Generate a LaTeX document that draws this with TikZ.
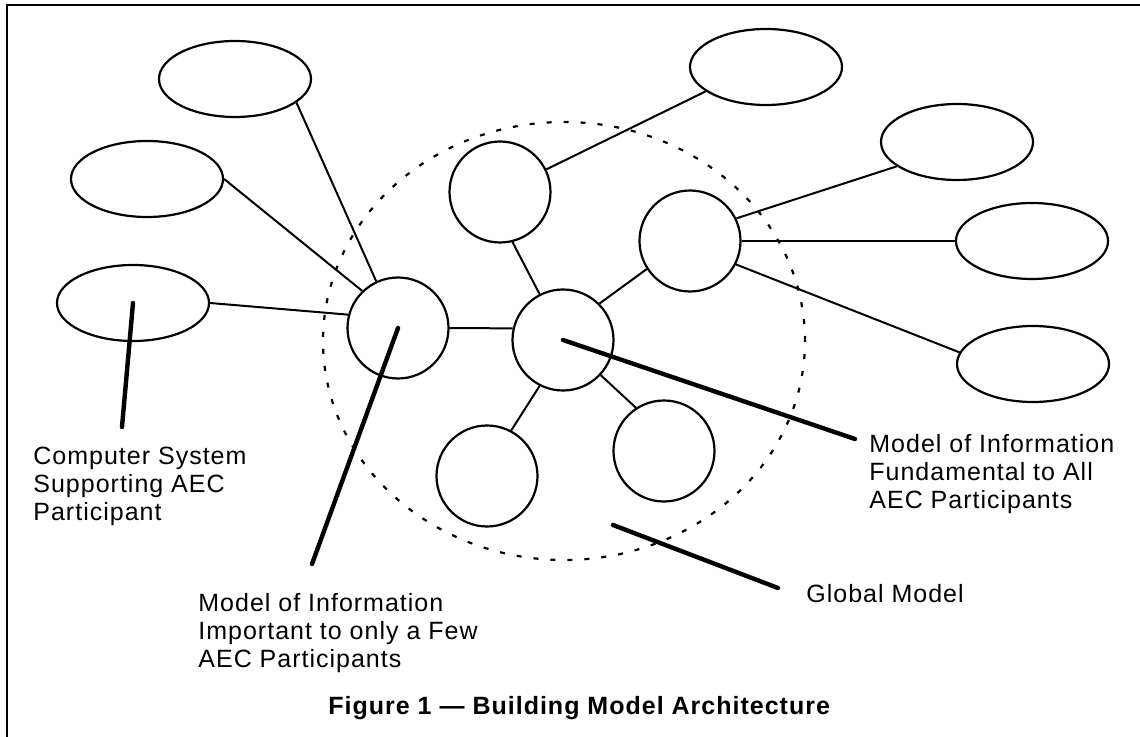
\documentclass[tikz,border=0pt]{standalone}
\usepackage{fontspec}
\setmainfont{Liberation Sans}[LetterSpace=4]
\usepackage{tikz}
\usetikzlibrary{shapes.geometric}
\tikzset{
  system/.style ={ellipse, draw, line width=1.1pt, inner sep=0pt,
                  minimum width=76pt, minimum height=38pt},
  model/.style  ={circle, draw, line width=1.1pt, inner sep=0pt,
                  minimum size=50.5pt},
  globe/.style  ={ellipse, draw, line width=1.1pt, inner sep=0pt,
                  dash pattern=on 2.5pt off 6pt,
                  minimum width=241pt, minimum height=219pt},
  link/.style   ={line width=1pt},
  pointer/.style={line width=2.2pt, line cap=round},
  lbl/.style    ={anchor=north west, inner sep=0pt, align=left,
                  font=\fontsize{12.5}{14}\selectfont},
  ttl/.style    ={anchor=north west, inner sep=0pt,
                  font=\fontsize{12.5}{14}\selectfont\bfseries},
}

\begin{document}
\begin{tikzpicture}[x=0.5pt, y=-0.5pt]
  \useasboundingbox (0,0) rectangle (1140,737);

  % ---- frame (cut off at the right and bottom) ----
  \draw[line width=1pt] (7,737) -- (7,5) -- (1140,5);

  % ---- global model ----
  \node[globe] (global) at (564,341) {};

  % ---- models of information ----
  \node[model] (hub)    at (398,328) {};
  \node[model] (mtop)   at (500,192) {};
  \node[model] (core)   at (563,340) {};
  \node[model] (mright) at (690,241) {};
  \node[model] (mlowA)  at (487,476) {};
  \node[model] (mlowB)  at (664,451) {};

  % ---- computer systems ----
  \node[system] (sysA) at (235,79)  {};
  \node[system] (sysB) at (147,179) {};
  \node[system] (sysC) at (133,303) {};
  \node[system] (sysD) at (766,67)  {};
  \node[system] (sysE) at (957,142) {};
  \node[system] (sysF) at (1032,241) {};
  \node[system] (sysG) at (1033,364) {};

  % ---- links ----
  \draw[link] (sysA.-21) -- (hub.115);
  \draw[link] (sysB.east) -- (hub.134);
  \draw[link] (sysC.east) -- (hub.165);
  \draw[link] (hub.east) -- (core.167);
  \draw[link] (mtop.-76) -- (core.117);
  \draw[link] (mtop.26) -- (sysD.202);
  \draw[link] (core.45) -- (mright.213);
  \draw[link] (mright.26) -- (sysE.202);
  \draw[link] (mright.east) -- (sysF.west);
  \draw[link] (mright.-27) -- (sysG.171);
  \draw[link] (core.243) -- (mlowA.62);
  \draw[link] (core.-43) -- (mlowB.123);

  % ---- labels ----
  \node[lbl] (compLbl) at (33,447)
    {Computer System\\Supporting AEC\\Participant};
  \node[lbl] (fewLbl) at (198,593)
    {Model of Information\\Important to only a Few\\AEC Participants};
  \node[lbl] (fundLbl) at (869,434)
    {Model of Information\\Fundamental to All\\AEC Participants};
  \node[lbl] (globLbl) at (806,584) {Global Model};

  % ---- pointers ----
  \coordinate (compEnd) at (122,427);
  \coordinate (fewEnd)  at (312,564);
  \coordinate (fundEnd) at (855,439);
  \coordinate (globTip) at (613,525);
  \coordinate (globEnd) at (778,588);
  \draw[pointer] (sysC.center) -- (compEnd);
  \draw[pointer] (hub.center) -- (fewEnd);
  \draw[pointer] (core.center) -- (fundEnd);
  \draw[pointer] (globTip) -- (globEnd);

  % ---- caption ----
  \node[ttl] (title) at (328,696) {Figure 1 --- Building Model Architecture};

\end{tikzpicture}
\end{document}
